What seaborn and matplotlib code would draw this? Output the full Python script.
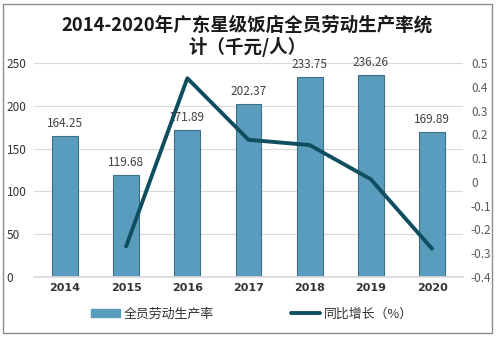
import matplotlib
matplotlib.use("Agg")
import matplotlib.pyplot as plt
import seaborn as sns
import pandas as pd
from matplotlib.patches import Rectangle
from matplotlib.lines import Line2D
from matplotlib.patches import Patch

sns.set_theme(style="white")
plt.rcParams['font.family'] = ['Noto Sans CJK SC', 'DejaVu Sans']

years = ["2014", "2015", "2016", "2017", "2018", "2019", "2020"]
productivity = [164.25, 119.68, 171.89, 202.37, 233.75, 236.26, 169.89]
growth_years = ["2015", "2016", "2017", "2018", "2019", "2020"]
growth = [-0.271, 0.436, 0.177, 0.155, 0.011, -0.281]
left_ticks = [0, 50, 100, 150, 200, 250]
right_ticks = [-0.4, -0.3, -0.2, -0.1, 0, 0.1, 0.2, 0.3, 0.4, 0.5]
right_labels = ["-0.4", "-0.3", "-0.2", "-0.1", "0", "0.1", "0.2", "0.3", "0.4", "0.5"]

W, H = 498, 338
fig = plt.figure(figsize=(W / 100, H / 100), dpi=100)
ax = fig.add_axes([34.4 / W, 1 - 277 / H, (462.6 - 34.4) / W, (277 - 63) / H])

df = pd.DataFrame({"year": years, "val": productivity})
sns.barplot(data=df, x="year", y="val", ax=ax, color="#5a9cbd", width=0.42,
            edgecolor="#3d6f86", linewidth=0.8, saturation=1)
ax.set_xlim(-0.5, 6.5)
ax.set_ylim(0, 250)
ax.set_yticks(left_ticks)
ax.set_yticklabels([str(t) for t in left_ticks], fontsize=8.5, color="#333333")
ax.grid(axis="y", color="#d9d9d9", linewidth=0.8)
ax.set_axisbelow(True)
for s in ax.spines.values():
    s.set_visible(False)
ax.spines["bottom"].set_visible(True)
ax.spines["bottom"].set_color("#d9d9d9")
ax.set_xlabel("")
ax.set_ylabel("")
ax.tick_params(axis="both", length=0, pad=4)
ax.tick_params(axis="y", pad=20)
for lbl in ax.get_yticklabels():
    lbl.set_horizontalalignment("left")
ax.set_xticks(range(len(years)))
ax.set_xticklabels(years, fontsize=8, fontweight="bold", color="#333333", family="DejaVu Sans")

for i, v in enumerate(productivity):
    ax.text(i, v + 7, f"{v:.2f}", ha="center", va="bottom", fontsize=8.5, color="#404040")

ax2 = ax.twinx()
gdf = pd.DataFrame({"x": [years.index(y) for y in growth_years], "g": growth})
sns.lineplot(data=gdf, x="x", y="g", ax=ax2, color="#0f4e5f", linewidth=2.8)
ax2.set_ylim(-0.4, 0.5)
ax2.set_yticks(right_ticks)
ax2.set_yticklabels(right_labels, fontsize=8.5, color="#595959")
ax2.tick_params(axis="y", length=0, pad=6)
ax2.set_xlabel("")
ax2.set_ylabel("")
for s in ax2.spines.values():
    s.set_visible(False)
ax2.grid(False)

fig.text(247 / W, 1 - 25 / H, "2014-2020年广东星级饭店全员劳动生产率统", ha="center", va="center",
         fontsize=13.3, fontweight="bold", color="#1a1a1a")
fig.text(247 / W, 1 - 47 / H, "计（千元/人）", ha="center", va="center",
         fontsize=13.3, fontweight="bold", color="#1a1a1a")

handles = [Patch(facecolor="#5a9cbd", edgecolor="#5a9cbd"),
           Line2D([0], [0], color="#0f4e5f", linewidth=2.8)]
leg = fig.legend(handles, ["全员劳动生产率", "同比增长（%）"], loc="center",
                 bbox_to_anchor=(252 / W, 1 - 314 / H), ncol=2, frameon=False,
                 fontsize=9.3, handlelength=2.2, handleheight=0.5, columnspacing=6,
                 handletextpad=0.3)
for t in leg.get_texts():
    t.set_color("#333333")

fig.patches.append(Rectangle((3 / W, 1 - 333 / H), 489 / W, 329 / H, transform=fig.transFigure,
                             fill=False, edgecolor="#8c8c8c", linewidth=1))

fig.savefig("out.png", dpi=100)
